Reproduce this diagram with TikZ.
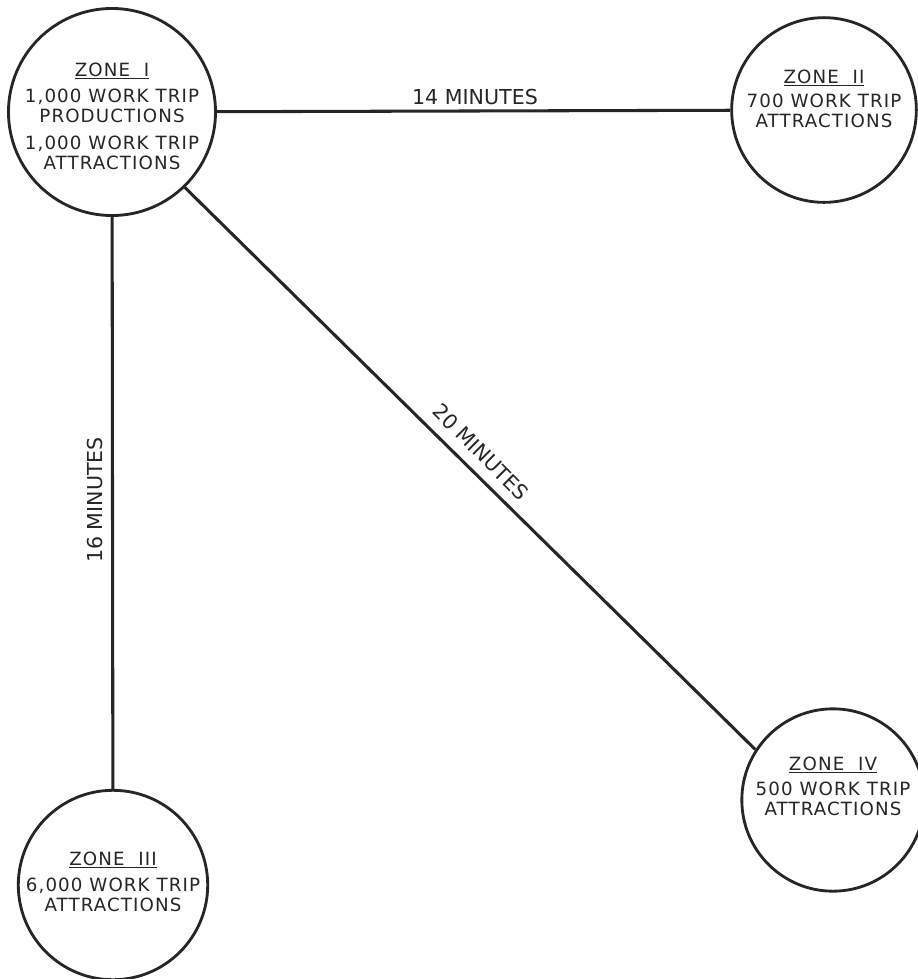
\documentclass[tikz,border=0pt]{standalone}
\usepackage{fontspec}
\setmainfont{DejaVu Sans}[LetterSpace=6]
\newfontfamily\labelfont{DejaVu Sans}
\tikzset{
  zone/.style={draw=black!85, circle, line width=2.4pt, inner sep=0pt},
  zonetext/.style={align=center, font=\fontsize{15.5}{17}\selectfont, text=black!85},
  link/.style={draw=black!85, line width=2.6pt},
  linklabel/.style={font=\labelfont\fontsize{17.5}{19}\selectfont, text=black!85}
}
\begin{document}
\begin{tikzpicture}[x=0.85pt, y=-0.85pt]
\useasboundingbox (0,0) rectangle (918,979);
\node[zone, minimum size=176pt] (z1) at (112,112) {};
\node[zone, minimum size=157pt] (z2) at (824,110) {};
\node[zone, minimum size=161pt] (z3) at (113,885) {};
\node[zone, minimum size=155pt] (z4) at (833,800) {};

\node[zonetext] (t1) at (112,116) {\underline{ZONE\ \ I}\\[5pt]1,000 WORK TRIP\\PRODUCTIONS\\[6pt]1,000 WORK TRIP\\ATTRACTIONS};
\node[zonetext] (t2) at (824,99) {\underline{ZONE\ \ II}\\[4pt]700 WORK TRIP\\ATTRACTIONS};
\node[zonetext] (t3) at (113,882) {\underline{ZONE\ \ III}\\[5pt]6,000 WORK TRIP\\ATTRACTIONS};
\node[zonetext] (t4) at (833,786) {\underline{ZONE\ \ IV}\\[4pt]500 WORK TRIP\\ATTRACTIONS};

\draw[link] (z1) -- (z2);
\draw[link] (z1) -- (z3);
\draw[link] (z1.-46) -- (z4.147);

\node[linklabel] (l14) at (475,97) {14 MINUTES};
\node[linklabel, rotate=90] (l16) at (95,500) {16 MINUTES};
\node[linklabel, rotate=-45] (l20) at (481,452) {20 MINUTES};
\end{tikzpicture}
\end{document}
